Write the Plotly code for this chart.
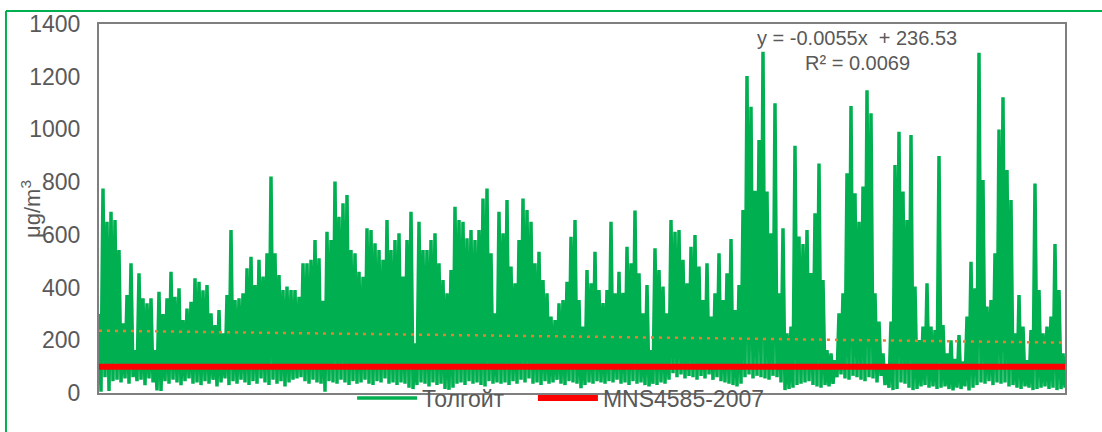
import plotly.graph_objects as go

# ---- data ----
series_name = "Толгойт"
standard_name = "MNS4585-2007"
standard_value = 100
trend_slope = -0.0055
trend_intercept = 236.53
n_hours = 8280
y_ticks = [0, 200, 400, 600, 800, 1000, 1200, 1400]

# upper values (local peaks) of the hourly series, left to right
highs = [
    300, 776, 650, 688, 656, 542, 264, 372, 492, 163, 454, 359, 340, 359, 163, 384, 300, 359, 460, 365, 397, 277, 320, 346, 435,
    422, 390, 410, 302, 258, 315, 226, 372, 618, 353, 359, 378, 473, 517, 410, 505, 442, 530, 821, 530, 448, 391, 404, 391, 391,
    365, 492, 492, 505, 580, 511, 350, 612, 580, 802, 669, 720, 751, 542, 530, 460, 441, 625, 618, 568, 542, 505, 656, 542, 580,
    606, 442, 580, 688, 188, 650, 542, 542, 580, 606, 492, 429, 378, 467, 707, 656, 650, 587, 618, 580, 618, 738, 776, 530, 302,
    688, 606, 732, 480, 416, 580, 738, 694, 650, 492, 536, 429, 378, 290, 277, 340, 353, 422, 593, 656, 353, 252, 467, 416, 536,
    391, 341, 391, 650, 378, 460, 380, 555, 492, 692, 454, 302, 410, 163, 549, 467, 404, 302, 656, 612, 618, 505, 416, 555, 599,
    480, 353, 492, 290, 378, 530, 353, 454, 584, 315, 410, 694, 1203, 1086, 767, 960, 1295, 764, 606, 1099, 378, 625, 226, 252, 938,
    594, 565, 618, 455, 682, 871, 429, 163, 150, 125, 302, 378, 834, 1089, 758, 650, 783, 1149, 1061, 378, 271, 150, 106, 271, 865,
    991, 764, 656, 979, 404, 201, 252, 416, 252, 239, 899, 258, 150, 200, 130, 220, 120, 290, 498, 397, 1291, 808, 328, 353, 530,
    1000, 1122, 846, 732, 226, 372, 252, 125, 239, 795, 391, 226, 252, 290, 565, 391, 150,
]

# lower values (local troughs) of the hourly series, left to right
lows = [
    5, 60, 8, 45, 50, 40, 55, 35, 60, 45, 50, 30, 55, 40, 10, 8, 45, 35, 50, 40, 30, 45, 55, 35, 40,
    30, 45, 35, 50, 25, 40, 55, 30, 45, 35, 50, 40, 30, 45, 35, 55, 40, 30, 50, 35, 45, 25, 40, 50, 55,
    60, 45, 35, 50, 40, 35, 5, 45, 40, 35, 50, 40, 30, 45, 35, 40, 50, 35, 30, 45, 40, 55, 35, 40, 30,
    40, 35, 20, 15, 30, 40, 35, 25, 40, 30, 35, 15, 12, 20, 35, 40, 30, 45, 35, 40, 30, 25, 45, 35, 40,
    35, 40, 30, 45, 35, 50, 40, 55, 35, 40, 30, 45, 35, 40, 50, 35, 30, 45, 40, 35, 18, 30, 40, 35, 45,
    40, 35, 45, 40, 50, 35, 40, 30, 45, 35, 40, 30, 25, 35, 30, 40, 35, 50, 75, 60, 70, 55, 65, 60, 50,
    65, 55, 70, 50, 60, 45, 40, 35, 30, 25, 35, 60, 70, 55, 65, 60, 55, 50, 65, 60, 40, 11, 15, 20, 30,
    35, 40, 45, 30, 25, 20, 30, 25, 35, 60, 70, 55, 50, 65, 60, 50, 45, 60, 55, 40, 65, 30, 20, 11, 15,
    40, 35, 20, 11, 15, 25, 30, 20, 25, 15, 20, 25, 15, 10, 20, 15, 25, 10, 20, 30, 40, 35, 45, 30, 40,
    35, 40, 25, 30, 20, 15, 25, 20, 11, 15, 20, 25, 15, 20, 11, 15, 20,
]

values = []
for h, l in zip(highs, lows):
    values += [h, l]
hours = [1 + k * (n_hours - 1) / (len(values) - 1) for k in range(len(values))]

trend_x = [1, n_hours]
trend_y = [trend_slope * x + trend_intercept for x in trend_x]

GREEN = "#00B050"
RED = "#FF0000"
ORANGE = "#ED7D31"
GREY_TXT = "#595959"
FONT = "Arial, Liberation Sans, sans-serif"

fig = go.Figure()
fig.add_trace(go.Scatter(x=hours, y=values, mode="lines", name=series_name,
                         line=dict(color=GREEN, width=3.5), legend="legend"))
fig.add_trace(go.Scatter(x=trend_x, y=trend_y, mode="lines", showlegend=False,
                         line=dict(color=ORANGE, width=2.5, dash="3px,5px")))
fig.add_trace(go.Scatter(x=[1, n_hours], y=[standard_value, standard_value], mode="lines",
                         name=standard_name, line=dict(color=RED, width=6), legend="legend2"))

legend_common = dict(orientation="h", xanchor="left", y=-0.014, yanchor="middle",
                     bgcolor="rgba(0,0,0,0)", font=dict(size=23, color=GREY_TXT),
                     itemwidth=60)

fig.update_layout(
    width=1102, height=432,
    margin=dict(l=99, r=37, t=24, b=39),
    paper_bgcolor="white", plot_bgcolor="white",
    font=dict(family=FONT, color=GREY_TXT, size=23),
    showlegend=True,
    legend=dict(x=0.262, **legend_common),
    legend2=dict(x=0.4492, **legend_common),
    xaxis=dict(range=[1, n_hours], showticklabels=False, showgrid=False, zeroline=False,
               ticks="", showline=True, linecolor="#7F7F7F", linewidth=2, mirror=True),
    yaxis=dict(range=[0, 1400], tickvals=y_ticks, showgrid=False, zeroline=False,
               ticks="", ticklabelstandoff=12, tickfont=dict(size=23, color=GREY_TXT),
               showline=True, linecolor="#7F7F7F", linewidth=2, mirror=True),
    annotations=[
        dict(text="μg/m<sup>3</sup>", textangle=-90, xref="paper", yref="paper",
             x=-0.071, y=0.50, xanchor="center", yanchor="middle", showarrow=False,
             font=dict(size=22, color=GREY_TXT)),
        dict(text="y = -0.0055x  + 236.53", xref="paper", yref="paper",
             x=0.7847, y=0.962, xanchor="center", yanchor="middle", showarrow=False,
             font=dict(size=20, color=GREY_TXT)),
        dict(text="R² = 0.0069", xref="paper", yref="paper",
             x=0.7857, y=0.894, xanchor="center", yanchor="middle", showarrow=False,
             font=dict(size=20, color=GREY_TXT)),
    ],
    shapes=[
        dict(type="line", xref="paper", yref="paper", x0=-0.0963, x1=1.1, y0=1.0352, y1=1.0352,
             line=dict(color=GREEN, width=2)),
        dict(type="line", xref="paper", yref="paper", x0=-0.0963, x1=-0.0963, y0=-0.2, y1=1.0352,
             line=dict(color=GREEN, width=2)),
    ],
)

fig.write_html("out.html", config={"displayModeBar": False},
               post_script="document.body.style.margin='0px';")
